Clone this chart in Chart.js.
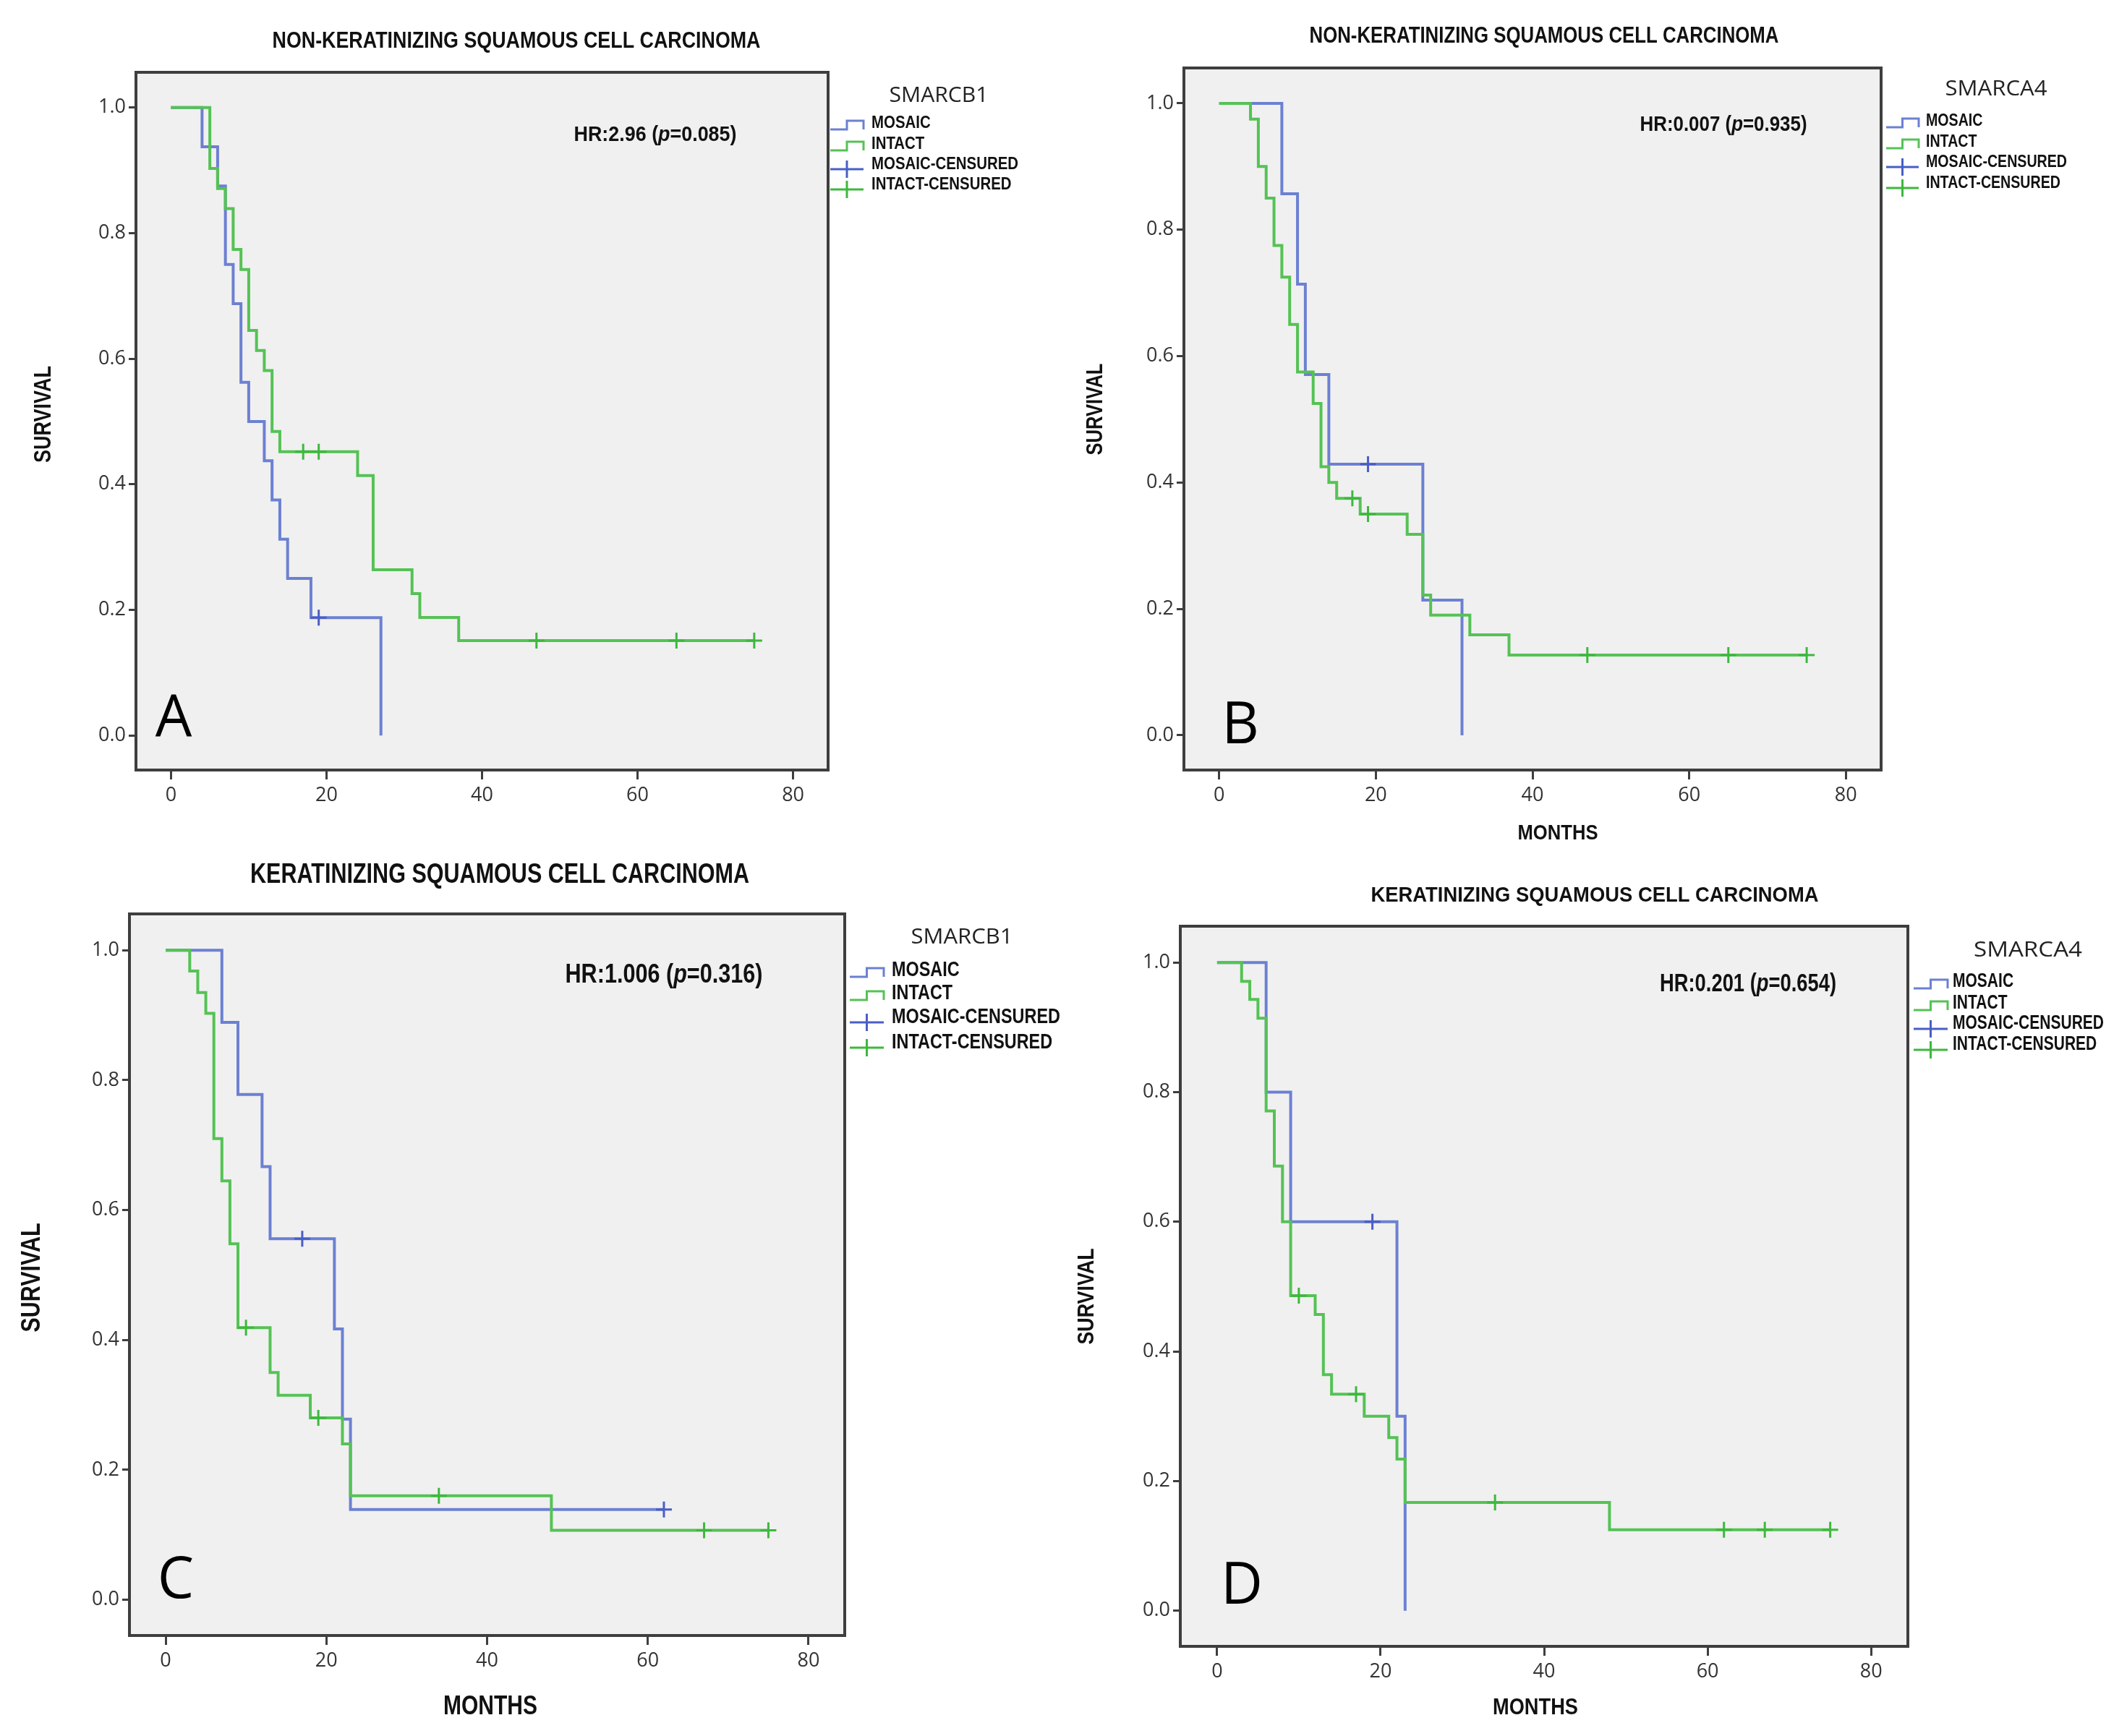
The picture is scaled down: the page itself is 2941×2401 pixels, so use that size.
<!DOCTYPE html>
<html>
<head>
<meta charset="utf-8">
<script src="https://cdn.jsdelivr.net/npm/chart.js@4.4.1/dist/chart.umd.min.js"></script>
<style>
  html, body { margin: 0; padding: 0; background: #fff; }
  canvas { position: absolute; }
</style>
</head>
<body>
<canvas id="panelA" width="1470" height="1180" style="left:0px;top:0px"></canvas>
<canvas id="panelB" width="1471" height="1180" style="left:1470px;top:0px"></canvas>
<canvas id="panelC" width="1470" height="1221" style="left:0px;top:1180px"></canvas>
<canvas id="panelD" width="1471" height="1221" style="left:1470px;top:1180px"></canvas>
<script>
// Curvas Kaplan-Meier (meses, supervivencia)

// A: no queratinizante, SMARCB1
const aMosaicTime = [0, 4, 6, 7, 8, 9, 10, 12, 13, 14, 15, 18, 27];
const aMosaicSurv = [1, 0.9375, 0.875, 0.75, 0.6875, 0.5625, 0.5, 0.4375, 0.375, 0.3125, 0.25, 0.1875, 0];
const aMosaicCensTime = [19];
const aMosaicCensSurv = [0.1875];
const aIntactTime = [0, 5, 6, 7, 8, 9, 10, 11, 12, 13, 14, 24, 26, 31, 32, 37, 75];
const aIntactSurv = [1, 0.903, 0.871, 0.839, 0.774, 0.742, 0.645, 0.613, 0.581, 0.484, 0.452, 0.414, 0.264, 0.226, 0.188, 0.151, 0.151];
const aIntactCensTime = [17, 19, 47, 65, 75];
const aIntactCensSurv = [0.452, 0.452, 0.151, 0.151, 0.151];

// B: no queratinizante, SMARCA4
const bMosaicTime = [0, 8, 10, 11, 14, 26, 31];
const bMosaicSurv = [1, 0.857, 0.714, 0.571, 0.429, 0.214, 0];
const bMosaicCensTime = [19];
const bMosaicCensSurv = [0.429];
const bIntactTime = [0, 4, 5, 6, 7, 8, 9, 10, 12, 13, 14, 15, 18, 24, 26, 27, 32, 37, 75];
const bIntactSurv = [1, 0.975, 0.9, 0.85, 0.775, 0.725, 0.65, 0.575, 0.525, 0.425, 0.4, 0.375, 0.35, 0.318, 0.222, 0.19, 0.159, 0.127, 0.127];
const bIntactCensTime = [17, 19, 47, 65, 75];
const bIntactCensSurv = [0.375, 0.35, 0.127, 0.127, 0.127];

// C: queratinizante, SMARCB1
const cMosaicTime = [0, 7, 9, 12, 13, 21, 22, 23, 62];
const cMosaicSurv = [1, 0.889, 0.778, 0.667, 0.556, 0.417, 0.278, 0.139, 0.139];
const cMosaicCensTime = [17, 62];
const cMosaicCensSurv = [0.556, 0.139];
const cIntactTime = [0, 3, 4, 5, 6, 7, 8, 9, 13, 14, 18, 22, 23, 48, 75];
const cIntactSurv = [1, 0.968, 0.935, 0.903, 0.71, 0.645, 0.548, 0.419, 0.35, 0.315, 0.28, 0.24, 0.16, 0.107, 0.107];
const cIntactCensTime = [10, 19, 34, 67, 75];
const cIntactCensSurv = [0.419, 0.28, 0.16, 0.107, 0.107];

// D: queratinizante, SMARCA4
const dMosaicTime = [0, 6, 9, 22, 23];
const dMosaicSurv = [1, 0.8, 0.6, 0.3, 0];
const dMosaicCensTime = [19];
const dMosaicCensSurv = [0.6];
const dIntactTime = [0, 3, 4, 5, 6, 7, 8, 9, 12, 13, 14, 18, 21, 22, 23, 48, 75];
const dIntactSurv = [1, 0.971, 0.943, 0.914, 0.771, 0.686, 0.6, 0.486, 0.457, 0.364, 0.334, 0.3, 0.267, 0.234, 0.167, 0.125, 0.125];
const dIntactCensTime = [10, 17, 34, 62, 67, 75];
const dIntactCensSurv = [0.486, 0.334, 0.167, 0.125, 0.125, 0.125];

const legendLabels = ['MOSAIC', 'INTACT', 'MOSAIC-CENSURED', 'INTACT-CENSURED'];
const nonKerTitle = 'NON-KERATINIZING SQUAMOUS CELL CARCINOMA';
const kerTitle = 'KERATINIZING SQUAMOUS CELL CARCINOMA';

const BLUE = '#6c80d2';
const BLUE_DARK = '#4a5ec6';
const GREEN = '#55c255';
const GREEN_DARK = '#3db83d';
const NARROW = "'Liberation Sans Narrow', 'Liberation Sans', Arial, sans-serif";

function puntos(tiempos, surv) {
    return tiempos.map((t, i) => ({ x: t, y: surv[i] }));
}

// Texto comprimido horizontalmente hasta el ancho medido en la figura
function textoAncho(ctx, str, x, y, font, ancho, align, rot) {
    ctx.save();
    ctx.font = font;
    const w = ctx.measureText(str).width;
    ctx.translate(x, y);
    if (rot) ctx.rotate(rot);
    ctx.scale(ancho / w, 1);
    ctx.textAlign = align || 'center';
    ctx.textBaseline = 'middle';
    ctx.fillText(str, 0, 0);
    ctx.restore();
}

// Panel decoration: fondo, marco, titulo, HR, leyenda, etiquetas
function decoracion(L) {
    return {
        id: 'decor',
        beforeDraw(chart) {
            const { ctx, chartArea: a } = chart;
            ctx.save();
            ctx.fillStyle = '#f0f0f0';
            ctx.fillRect(a.left, a.top, a.right - a.left, a.bottom - a.top);
            ctx.restore();
        },
        afterDraw(chart) {
            const { ctx, chartArea: a } = chart;
            ctx.save();
            ctx.strokeStyle = '#3e3e3e';
            ctx.lineWidth = 4;
            ctx.strokeRect(a.left, a.top, a.right - a.left, a.bottom - a.top);
            ctx.fillStyle = '#111';

            // titulo
            textoAncho(ctx, L.title, L.titleX, L.titleY, 'bold ' + L.titleSize + 'px ' + NARROW, L.titleW);

            // HR con p en cursiva
            const partes = [
                ['HR:' + L.hr + ' (', 'bold '],
                ['p', 'italic bold '],
                ['=' + L.p + ')', 'bold ']
            ];
            let total = 0;
            partes.forEach(pt => {
                ctx.font = pt[1] + L.hrSize + 'px ' + NARROW;
                pt.push(ctx.measureText(pt[0]).width);
                total += pt[2];
            });
            const k = L.hrW / total;
            let cx = L.hrX - L.hrW / 2;
            partes.forEach(pt => {
                ctx.save();
                ctx.font = pt[1] + L.hrSize + 'px ' + NARROW;
                ctx.translate(cx, L.hrY);
                ctx.scale(k, 1);
                ctx.textAlign = 'left';
                ctx.textBaseline = 'middle';
                ctx.fillText(pt[0], 0, 0);
                ctx.restore();
                cx += pt[2] * k;
            });

            // leyenda
            ctx.fillStyle = '#222';
            textoAncho(ctx, L.gene, L.legTitleX, L.legTitleY, L.legTitleSize + "px 'Open Sans', 'Liberation Sans', sans-serif", L.legTitleW);
            ctx.font = 'bold ' + L.legSize + 'px ' + NARROW;
            const kl = L.legRefW / ctx.measureText('MOSAIC-CENSURED').width;
            const g0 = L.glyph0, g1 = L.glyph1, gm = (g0 + g1) / 2;
            legendLabels.forEach((lab, i) => {
                const cy = L.legY[i];
                ctx.save();
                ctx.lineWidth = 3;
                if (i < 2) {
                    ctx.strokeStyle = i === 0 ? BLUE : GREEN;
                    ctx.beginPath();
                    ctx.moveTo(g0, cy + 9);
                    ctx.lineTo(gm, cy + 9);
                    ctx.lineTo(gm, cy - 3);
                    ctx.lineTo(g1, cy - 3);
                    ctx.lineTo(g1, cy + 9);
                    ctx.stroke();
                } else {
                    ctx.strokeStyle = i === 2 ? BLUE_DARK : GREEN_DARK;
                    ctx.beginPath();
                    ctx.moveTo(g0, cy + 7);
                    ctx.lineTo(g1, cy + 7);
                    ctx.moveTo(gm, cy - 5);
                    ctx.lineTo(gm, cy + 19);
                    ctx.stroke();
                }
                ctx.restore();
                ctx.save();
                ctx.fillStyle = '#111';
                ctx.font = 'bold ' + L.legSize + 'px ' + NARROW;
                ctx.translate(L.legTextX, cy);
                ctx.scale(kl, 1);
                ctx.textAlign = 'left';
                ctx.textBaseline = 'middle';
                ctx.fillText(lab, 0, 0);
                ctx.restore();
            });

            // titulos de ejes
            ctx.fillStyle = '#111';
            textoAncho(ctx, 'SURVIVAL', L.survX, L.survY, 'bold ' + L.survSize + 'px ' + NARROW, L.survW, 'center', -Math.PI / 2);
            if (L.monthsX) {
                textoAncho(ctx, 'MONTHS', L.monthsX, L.monthsY, 'bold ' + L.monthsSize + 'px ' + NARROW, L.monthsW);
            }

            // letra del panel
            ctx.fillStyle = '#000';
            ctx.font = "80px 'Open Sans', 'Liberation Sans', sans-serif";
            ctx.textAlign = 'center';
            ctx.textBaseline = 'middle';
            ctx.fillText(L.letter, L.letterX, L.letterY);
            ctx.restore();
        }
    };
}

function crearPanel(id, serie, L) {
    const canvas = document.getElementById(id);
    const W = canvas.width, H = canvas.height;
    new Chart(canvas.getContext('2d'), {
        type: 'scatter',
        data: {
            datasets: [
                {
                    label: 'MOSAIC-CENSURED',
                    data: puntos(serie.mct, serie.mcs),
                    showLine: false,
                    pointStyle: 'cross',
                    pointRadius: 11,
                    borderColor: BLUE_DARK,
                    borderWidth: 3
                },
                {
                    label: 'INTACT-CENSURED',
                    data: puntos(serie.ict, serie.ics),
                    showLine: false,
                    pointStyle: 'cross',
                    pointRadius: 11,
                    borderColor: GREEN_DARK,
                    borderWidth: 3
                },
                {
                    label: 'INTACT',
                    data: puntos(serie.it, serie.is),
                    showLine: true,
                    stepped: true,
                    pointRadius: 0,
                    borderColor: GREEN,
                    borderWidth: 4,
                    fill: false
                },
                {
                    label: 'MOSAIC',
                    data: puntos(serie.mt, serie.ms),
                    showLine: true,
                    stepped: true,
                    pointRadius: 0,
                    borderColor: BLUE,
                    borderWidth: 4,
                    fill: false
                }
            ]
        },
        options: {
            responsive: false,
            devicePixelRatio: 1,
            animation: false,
            events: [],
            layout: { padding: { left: 0, top: L.top, right: W - L.right, bottom: 0 } },
            plugins: { legend: { display: false }, tooltip: { enabled: false } },
            scales: {
                x: {
                    type: 'linear',
                    min: -4.5,
                    max: 84.5,
                    afterFit: s => { s.height = H - L.bottom; },
                    border: { display: false },
                    grid: { drawOnChartArea: false, drawTicks: true, tickLength: 13, color: '#3e3e3e', lineWidth: 3 },
                    ticks: {
                        stepSize: 20,
                        includeBounds: false,
                        padding: 6,
                        color: '#333',
                        font: { family: "'Open Sans', 'Liberation Sans', sans-serif", size: 27 },
                        callback: v => v
                    }
                },
                y: {
                    type: 'linear',
                    min: -0.055,
                    max: 1.056,
                    afterFit: s => { s.width = L.left; },
                    border: { display: false },
                    grid: { drawOnChartArea: false, drawTicks: true, tickLength: 10, color: '#3e3e3e', lineWidth: 3 },
                    ticks: {
                        stepSize: 0.2,
                        includeBounds: false,
                        padding: 4,
                        color: '#333',
                        font: { family: "'Open Sans', 'Liberation Sans', sans-serif", size: 27 },
                        callback: v => v.toFixed(1)
                    }
                }
            }
        },
        plugins: [decoracion(L)]
    });
}

crearPanel('panelA', {
    mt: aMosaicTime, ms: aMosaicSurv, mct: aMosaicCensTime, mcs: aMosaicCensSurv,
    it: aIntactTime, is: aIntactSurv, ict: aIntactCensTime, ics: aIntactCensSurv
}, {
    left: 188, top: 100, right: 1145, bottom: 1065,
    title: nonKerTitle, titleX: 714, titleY: 57, titleW: 675, titleSize: 32,
    hr: '2.96', p: '0.085', hrX: 906, hrY: 187, hrW: 225, hrSize: 30,
    gene: 'SMARCB1', legTitleX: 1298, legTitleY: 132, legTitleW: 137, legTitleSize: 30,
    glyph0: 1148, glyph1: 1194, legTextX: 1205, legY: [170, 199, 227, 255], legSize: 24, legRefW: 203,
    survX: 61, survY: 573, survW: 134, survSize: 34,
    letter: 'A', letterX: 240, letterY: 995
});

crearPanel('panelB', {
    mt: bMosaicTime, ms: bMosaicSurv, mct: bMosaicCensTime, mcs: bMosaicCensSurv,
    it: bIntactTime, is: bIntactSurv, ict: bIntactCensTime, ics: bIntactCensSurv
}, {
    left: 167, top: 94, right: 1131, bottom: 1065,
    title: nonKerTitle, titleX: 665, titleY: 50, titleW: 649, titleSize: 32,
    hr: '0.007', p: '0.935', hrX: 913, hrY: 173, hrW: 231, hrSize: 30,
    gene: 'SMARCA4', legTitleX: 1290, legTitleY: 123, legTitleW: 141, legTitleSize: 30,
    glyph0: 1138, glyph1: 1183, legTextX: 1193, legY: [167, 196, 224, 253], legSize: 24, legRefW: 195,
    survX: 45, survY: 566, survW: 127, survSize: 32,
    monthsX: 684, monthsY: 1153, monthsW: 111, monthsSize: 30,
    letter: 'B', letterX: 245, letterY: 1005
});

crearPanel('panelC', {
    mt: cMosaicTime, ms: cMosaicSurv, mct: cMosaicCensTime, mcs: cMosaicCensSurv,
    it: cIntactTime, is: cIntactSurv, ict: cIntactCensTime, ics: cIntactCensSurv
}, {
    left: 179, top: 84, right: 1168, bottom: 1082,
    title: kerTitle, titleX: 691, titleY: 31, titleW: 690, titleSize: 38,
    hr: '1.006', p: '0.316', hrX: 918, hrY: 169, hrW: 273, hrSize: 37,
    gene: 'SMARCB1', legTitleX: 1330, legTitleY: 116, legTitleW: 141, legTitleSize: 30,
    glyph0: 1175, glyph1: 1222, legTextX: 1233, legY: [162, 194, 227, 262], legSize: 29, legRefW: 233,
    survX: 45, survY: 587, survW: 151, survSize: 36,
    monthsX: 678, monthsY: 1181, monthsW: 130, monthsSize: 36,
    letter: 'C', letterX: 243, letterY: 1007
});

crearPanel('panelD', {
    mt: dMosaicTime, ms: dMosaicSurv, mct: dMosaicCensTime, mcs: dMosaicCensSurv,
    it: dIntactTime, is: dIntactSurv, ict: dIntactCensTime, ics: dIntactCensSurv
}, {
    left: 162, top: 101, right: 1168, bottom: 1097,
    title: kerTitle, titleX: 735, titleY: 59, titleW: 619, titleSize: 30,
    hr: '0.201', p: '0.654', hrX: 947, hrY: 181, hrW: 244, hrSize: 35,
    gene: 'SMARCA4', legTitleX: 1334, legTitleY: 134, legTitleW: 150, legTitleSize: 30,
    glyph0: 1176, glyph1: 1223, legTextX: 1230, legY: [178, 208, 236, 265], legSize: 27, legRefW: 209,
    survX: 33, survY: 613, survW: 133, survSize: 32,
    monthsX: 653, monthsY: 1182, monthsW: 118, monthsSize: 32,
    letter: 'D', letterX: 247, letterY: 1015
});
</script>
</body>
</html>
